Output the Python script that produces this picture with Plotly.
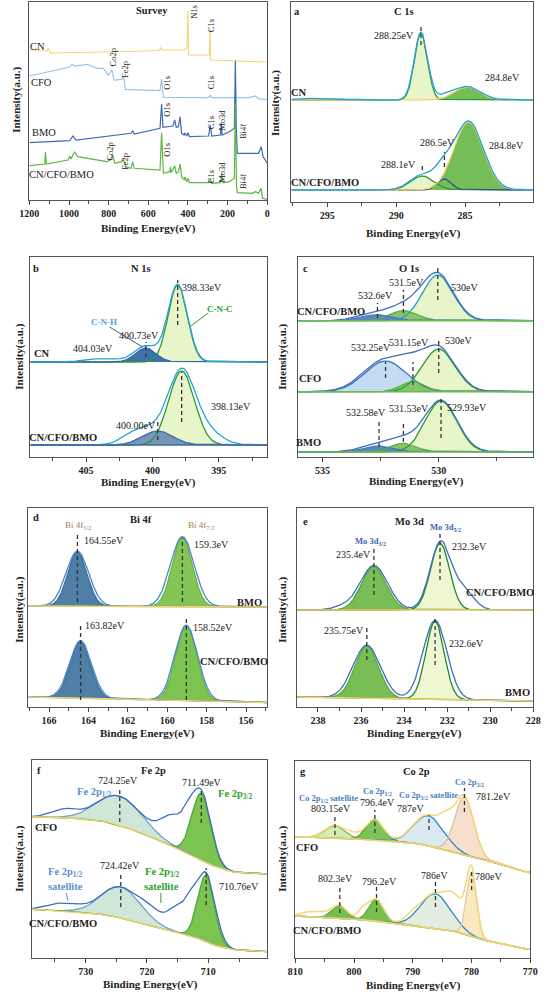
import numpy as np
import plotly.graph_objects as go

W, H = 549, 992
FONT = "Liberation Serif"

# ------------------------------------------------------------------ DATA
# Survey spectra: binding energy (eV) and intensity (a.u.)
CN_SURVEY_EV = [1200, 1110, 1105, 1095, 700, 545, 537, 530, 420, 405, 401, 398, 396, 292, 289, 286, 0]
CN_SURVEY_I = [150, 149, 152, 147, 148.5, 149.5, 152.5, 150, 150, 152, 189, 150, 145, 145, 172, 140, 138]

CFO_SURVEY_EV = [1200, 1102, 996, 985, 972, 907, 858, 826, 801, 783, 773, 736, 725, 715, 541, 533, 524,
                 296, 288, 280, 93, 60, 44, 0]
CFO_SURVEY_I = [124, 128.3, 133, 136, 134, 135.7, 131.7, 131.7, 124.7, 130, 120, 120.7, 122.7, 110.7, 109.3,
                121, 102.7, 102.3, 104.7, 102.3, 102.3, 104, 101.3, 100]

BMO_SURVEY_EV = [1200, 996, 980, 964, 687, 679, 671, 541, 533, 526, 476, 467, 459, 448, 440, 432, 419, 415,
                 406, 399, 393, 296, 288, 280, 236, 232, 228, 191, 166, 161, 156, 151, 44, 31, 21, 0]
BMO_SURVEY_I = [57.3, 59.3, 64, 60, 66.7, 69.3, 66, 71.7, 96, 72.7, 74, 80, 72.7, 73.3, 83.3, 66.7, 65, 67,
                64, 67.3, 63.3, 64, 75, 64, 65, 77.3, 65, 68.3, 71.7, 139.3, 70, 46.7, 46.7, 53.3, 43.3, 36.7]

MIX_SURVEY_EV = [1200, 1122, 1119, 1114, 1005, 996, 990, 972, 956, 809, 793, 780, 769, 736, 725, 715, 687,
                 679, 671, 541, 533, 524, 492, 488, 485, 467, 459, 448, 440, 432, 419, 415, 406, 399, 393,
                 296, 288, 280, 236, 230, 223, 191, 166, 161, 155, 151, 77, 60, 44, 31, 24, 0]
MIX_SURVEY_I = [34.3, 36, 48.3, 36, 40, 44, 41, 48.3, 43.3, 38.3, 40, 45, 36.7, 38.3, 40.7, 33.3, 31.7,
                38.3, 31.7, 30, 67.3, 26.7, 28.3, 33, 27.3, 34, 26.7, 28.3, 36, 23.3, 20, 23, 18.3, 21.7,
                17.3, 17.3, 21.7, 16.7, 17.3, 26.7, 17.3, 18.3, 21.7, 96, 13.3, 7.3, 6.7, 8.3, 6.7, 11.7,
                1.7, 0.7]

# High resolution spectra: fitted components (centre eV, height a.u., FWHM eV),
# measured envelope components and background knots (eV, a.u.)
A_CN_BKG = [(297.6, 102), (280.05, 102)]
A_CN_FIT = [(288.2, 67, 1.1), (284.85, 13, 2.2)]
A_CN_RAW = [(288.2, 67.5, 1.15), (286.6, 3, 1.5), (284.85, 13.5, 2.3), (295.5, 2, 3.0)]
A_MIX_BKG = [(297.6, 12), (280.05, 12)]
A_MIX_FIT = [(288.1, 14, 2.0), (286.5, 11, 1.2), (284.75, 68, 2.5)]
A_MIX_RAW = [(288.1, 15, 2.1), (286.6, 14, 1.4), (284.75, 69, 2.55)]

B_CN_BKG = [(409.2, 95), (391.35, 95)]
B_CN_FIT = [(398.1, 77, 1.7), (400.5, 14, 1.8)]
B_CN_RAW = [(398.1, 77.5, 1.75), (400.5, 16, 2.0), (403.7, 3.5, 3.0)]
B_MIX_BKG = [(409.2, 12), (391.35, 12)]
B_MIX_FIT = [(397.8, 74, 2.3), (399.6, 14, 2.7)]
B_MIX_RAW = [(397.8, 74, 2.4), (395.8, 12, 2.5), (401.0, 15, 2.5), (399.6, 6, 2.0)]

C_MIX_BKG = [(536.05, 136.3), (525.93, 136.3)]
C_MIX_FIT = [(530.04, 45.7, 1.55), (531.52, 10, 1.4), (532.64, 6, 1.5)]
C_MIX_RAW = [(530.04, 46.5, 1.6), (531.4, 13, 1.6), (532.7, 7, 1.8)]
C_CFO_BKG = [(536.05, 65.3), (525.93, 65.3)]
C_CFO_FIT = [(530.0, 42.7, 1.65), (532.29, 30.7, 2.1), (531.11, 10, 1.2)]
C_CFO_RAW = [(530.0, 43.5, 1.7), (531.2, 12, 1.3), (532.3, 32, 2.2)]
C_BMO_BKG = [(536.05, 5), (525.93, 5)]
C_BMO_FIT = [(529.9, 51, 1.6), (531.52, 8.7, 1.3), (532.57, 6, 1.5)]
C_BMO_RAW = [(529.9, 51.5, 1.65), (531.5, 10.5, 1.5), (532.6, 7, 1.8)]

D_BMO_BKG = [(167.05, 101), (154.92, 100)]
D_BMO_FIT = [(164.56, 54, 1.15), (159.23, 69, 1.2)]
D_BMO_RAW = [(164.56, 55, 1.35), (159.23, 70, 1.4)]
D_MIX_BKG = [(167.05, 10), (154.92, 4.5)]
D_MIX_FIT = [(164.4, 57, 1.2), (159.03, 75, 1.25)]
D_MIX_RAW = [(164.4, 57.5, 1.3), (159.03, 75.5, 1.35)]

E_MIX_BKG = [(238.96, 97), (228.0, 97)]
E_MIX_FIT = [(235.4, 43.3, 1.35), (232.33, 66.7, 1.05)]
E_MIX_RAW = [(235.4, 44.5, 1.5), (232.3, 68, 1.15), (231.2, 18, 1.1), (236.9, 3, 1.0)]
E_BMO_BKG = [(238.96, 10), (228.0, 6)]
E_BMO_FIT = [(235.73, 52, 1.3), (232.56, 78, 1.0)]
E_BMO_RAW = [(235.73, 53, 1.5), (232.56, 79, 1.3)]

F_CFO_BKG = [(738.7, 141.3), (731.8, 139.7), (726.5, 136.3), (721.3, 126.3), (717.6, 116.3), (714.5, 108),
             (710.8, 96.3), (708.2, 89.7), (705.5, 85.3), (700.4, 84)]
F_CFO_FIT = [(724.44, 29.5, 8.5), (711.15, 67, 3.6)]
F_CFO_RAW = [(724.44, 29.5, 8.5), (711.15, 67, 3.7), (733.5, 8, 5), (715.5, 30, 5), (713.3, 10, 2)]
F_MIX_BKG = [(738.7, 48.7), (731.8, 46.3), (726.5, 43), (722.3, 37.3), (718.7, 31.3), (715, 25.3),
             (710.8, 18), (708.2, 10.7), (705.5, 8), (700.4, 6.3)]
F_MIX_FIT = [(724.28, 31, 7.5), (710.36, 65.5, 3.2)]
F_MIX_RAW = [(724.28, 31, 7.5), (710.36, 66, 3.5), (733.5, 8, 6), (719.5, 10, 4), (714.5, 28, 4.5),
             (712.8, 12, 1.8)]

G_CFO_BKG = [(810, 121.3), (795.7, 118), (788.6, 114), (782.6, 105.3), (779.3, 99.7), (774.9, 94),
             (770.3, 85.3)]
G_CFO_FIT = [(803.26, 12.5, 4.0), (796.46, 20, 3.4), (787.25, 30, 6.0), (781.22, 58, 3.8)]
G_CFO_RAW = [(803.26, 13, 4.0), (796.46, 20.5, 3.4), (787.25, 31, 6.0), (781.22, 58, 3.8), (784.3, 15, 2.5),
             (800.0, 4, 3.0)]
G_MIX_BKG = [(810, 42), (797.7, 38), (791.1, 33), (782.3, 26.3), (779, 19.7), (775.7, 14.7), (770.3, 8.7)]
G_MIX_FIT = [(802.43, 12.5, 3.0), (796.18, 22, 2.9), (786.15, 35, 6.0), (780.0, 64, 2.0)]
G_MIX_RAW = [(802.43, 12.5, 3.0), (796.18, 22, 2.9), (786.15, 35, 6.0), (780.0, 64, 2.0), (806.5, 6, 5),
             (798.4, 10, 2), (790.0, 5, 3), (782.6, 23, 3.5)]

# Peak marker positions (eV) with the intensity span of each dashed marker
A_MARKS = [(288.2, 157, 175), (288.1, 32, 39), (286.5, 35, 50)]
B_MARKS = [(398.1, 132, 177), (400.5, 100, 115), (397.8, 35, 85), (399.6, 17, 37)]
C_MARKS = [(530.04, 157, 192), (531.52, 144, 167), (532.64, 139, 154), (530.0, 84, 117), (532.29, 79, 95),
           (531.11, 72, 95), (529.9, 19, 60), (531.52, 15, 36), (532.57, 10, 35)]
D_MARKS = [(164.56, 105, 174), (159.23, 105, 169), (164.4, 7, 84), (159.03, 7, 91)]
E_MARKS = [(235.4, 112, 159), (232.33, 127, 175), (235.73, 47, 80), (232.56, 42, 89)]
F_MARKS = [(724.44, 136, 171), (711.15, 135, 168), (724.28, 51, 85), (710.36, 53, 90)]
G_MARKS = [(781.22, 146, 170), (787.25, 128, 143), (796.46, 125, 148), (803.26, 123, 143),
           (802.43, 45, 70), (796.18, 46, 71), (786.15, 51, 76), (780.0, 68, 86)]

# ------------------------------------------------------------------ LAYOUT HELPERS
PANELS = [  # key, left, right, top, bottom (px), x range, dtick, minor dtick
    ("S", 20, 266, 2, 200, (1200, 0), 200, 100),
    ("a", 291, 541, 2, 202, (297.6, 280.05), 5, 2.5),
    ("b", 21, 266, 257, 457, (409.2, 391.35), 5, 2.5),
    ("c", 298, 541, 257, 457, (536.05, 525.93), 5, 2.5),
    ("d", 19, 266, 508, 707, (167.05, 154.92), 2, 1),
    ("e", 297, 541, 508, 707, (238.96, 228.0), 2, 1),
    ("f", 23, 266, 760, 958, (738.7, 700.4), 10, 5),
    ("g", 295, 538, 761, 958, (810, 770), 10, 5),
]
REF = {}
fig = go.Figure()
layout = {}
for i, (key, l, r, t, b, xr, dt, mdt) in enumerate(PANELS, start=1):
    sfx = "" if i == 1 else str(i)
    REF[key] = ("x" + sfx, "y" + sfx, xr)
    layout["xaxis" + sfx] = dict(
        domain=[l / W, r / W], range=list(xr), anchor="y" + sfx, dtick=dt, tick0=0,
        ticks="outside", ticklen=4, tickwidth=1, tickcolor="#444",
        minor=dict(dtick=mdt, ticks="outside", ticklen=3, tickcolor="#444"),
        showline=True, mirror=True, linecolor="#555", linewidth=1.2,
        showgrid=False, zeroline=False,
        tickfont=dict(family=FONT, size=10, color="#222", weight="bold"))
    layout["yaxis" + sfx] = dict(
        domain=[1 - b / H, 1 - t / H], range=[0, b - t], anchor="x" + sfx,
        showticklabels=False, ticks="", showline=True, mirror=True,
        linecolor="#555", linewidth=1.2, showgrid=False, zeroline=False)


def peak(x, c, h, w):
    return h * np.exp(-4 * np.log(2) * ((x - c) / w) ** 2)


def line(key, x, y, color, width=1.2, dash=None):
    xa, ya, _ = REF[key]
    fig.add_trace(go.Scatter(x=x, y=y, mode="lines", xaxis=xa, yaxis=ya, hoverinfo="skip",
                             line=dict(color=color, width=width, dash=dash)))


def stack(key, bkg_knots, fit, styles, raw, raw_color, bkg_color=None, raw_width=1.3):
    xa, ya, xr = REF[key]
    xs = np.linspace(min(xr), max(xr), 900)
    kx = np.array([k[0] for k in bkg_knots])
    ky = np.array([k[1] for k in bkg_knots])
    o = np.argsort(kx)
    bkg = np.interp(xs, kx[o], ky[o])
    comps = [peak(xs, c, h, w) for c, h, w in fit]
    for g, (fc, lc) in zip(comps, styles):
        m = g > 0.05
        xm = xs[m]
        fig.add_trace(go.Scatter(x=np.concatenate([xm, xm[::-1]]),
                                 y=np.concatenate([(bkg + g)[m], bkg[m][::-1]]),
                                 fill="toself", fillcolor=fc, mode="lines", line=dict(width=0),
                                 xaxis=xa, yaxis=ya, hoverinfo="skip"))
    for g, (fc, lc) in zip(comps, styles):
        line(key, xs, bkg + g, lc, 1.3)
    rawy = bkg + sum(peak(xs, c, h, w) for c, h, w in raw)
    line(key, xs, rawy, raw_color, raw_width)
    if bkg_color:
        line(key, xs, bkg, bkg_color, 1.4)


def marks(key, lst):
    for c, lo, hi in lst:
        line(key, [c, c], [lo, hi], "#333", 1.3, "4px,3px")


# ------------------------------------------------------------------ COLOURS
YEL = "#f3d26c"
LG_FILL, LG_LINE = "#e8f5c9", "#2a9a34"
MG_FILL = "#74bd57"
DB_FILL = "#2f62a8"
CYAN = "#28a2d6"
BLUE = "#3e70b8"

# ------------------------------------------------------------------ SURVEY
line("S", CN_SURVEY_EV, CN_SURVEY_I, "#f5d77a", 1.2)
line("S", CFO_SURVEY_EV, CFO_SURVEY_I, "#9cc4e2", 1.2)
line("S", BMO_SURVEY_EV, BMO_SURVEY_I, "#3a6cb8", 1.2)
line("S", MIX_SURVEY_EV, MIX_SURVEY_I, "#5cb548", 1.2)

# ------------------------------------------------------------------ a  C 1s
stack("a", A_CN_BKG, A_CN_FIT, [(LG_FILL, LG_LINE), (MG_FILL, YEL)], A_CN_RAW, CYAN)
stack("a", A_MIX_BKG, A_MIX_FIT, [(LG_FILL, LG_LINE), (DB_FILL, "#2a5596"), (MG_FILL, YEL)], A_MIX_RAW, CYAN)
marks("a", A_MARKS)

# ------------------------------------------------------------------ b  N 1s
stack("b", B_CN_BKG, B_CN_FIT, [(LG_FILL, LG_LINE), ("#3e72ad", "#3565a0")], B_CN_RAW, CYAN)
stack("b", B_MIX_BKG, B_MIX_FIT, [(LG_FILL, LG_LINE), ("rgba(80,115,170,0.75)", "#3d6aa8")], B_MIX_RAW, CYAN,
      bkg_color="#3d6aa8")
marks("b", B_MARKS)

# ------------------------------------------------------------------ c  O 1s
stack("c", C_MIX_BKG, C_MIX_FIT, [(LG_FILL, "#2a9cc8"), ("#86c46a", "#5aae45"), ("#5b86c5", "#4a78b8")],
      C_MIX_RAW, BLUE, bkg_color="#6cbb50")
stack("c", C_CFO_BKG, C_CFO_FIT, [(LG_FILL, LG_LINE), ("#c4dcf2", BLUE), ("#86c46a", "#5aae45")],
      C_CFO_RAW, BLUE, bkg_color="#6cbb50")
stack("c", C_BMO_BKG, C_BMO_FIT, [(LG_FILL, LG_LINE), ("#86c46a", "#5aae45"), ("#5b86c5", "#4a78b8")],
      C_BMO_RAW, BLUE, bkg_color="#6cbb50")
marks("c", C_MARKS)

# ------------------------------------------------------------------ d  Bi 4f
stack("d", D_BMO_BKG, D_BMO_FIT, [("#4f7ea6", "#3f6f9e"), ("#84c556", "#6db544")], D_BMO_RAW, "#4a86c8",
      bkg_color=YEL)
stack("d", D_MIX_BKG, D_MIX_FIT, [("#4f7ea6", "#3f6f9e"), ("#7cc34f", "#6db544")], D_MIX_RAW, "#4a86c8",
      bkg_color=YEL)
marks("d", D_MARKS)

# ------------------------------------------------------------------ e  Mo 3d
stack("e", E_MIX_BKG, E_MIX_FIT, [("#78bd55", "#5aa83c"), ("#eef7d2", "#1e8a28")], E_MIX_RAW, BLUE,
      bkg_color=YEL)
stack("e", E_BMO_BKG, E_BMO_FIT, [("#78bd55", "#5aa83c"), ("#eef7d2", "#1e8a28")], E_BMO_RAW, BLUE,
      bkg_color=YEL)
marks("e", E_MARKS)

# ------------------------------------------------------------------ f  Fe 2p
stack("f", F_CFO_BKG, F_CFO_FIT, [("#cfe6d8", "#6f9fd0"), ("#7cc34f", "#4da83a")], F_CFO_RAW, BLUE,
      bkg_color=YEL)
stack("f", F_MIX_BKG, F_MIX_FIT, [("#cfe6d8", "#6f9fd0"), ("#7cc34f", "#4da83a")], F_MIX_RAW, BLUE,
      bkg_color=YEL)
marks("f", F_MARKS)

# ------------------------------------------------------------------ g  Co 2p
stack("g", G_CFO_BKG, G_CFO_FIT,
      [("#d5ecb0", "#6fbf4a"), ("#7cc35a", "#4fa83a"), ("#dbe9f3", "#2b8cc4"), ("#f6dfcc", "#dcc0a0")],
      G_CFO_RAW, "#f5d77a", bkg_color=YEL, raw_width=1.5)
stack("g", G_MIX_BKG, G_MIX_FIT,
      [("#76bf4f", "#5aae40"), ("#76bf4f", "#5aae40"), ("#e3eee0", "#2b8cc4"), ("#fbe7c0", "#e3c8a8")],
      G_MIX_RAW, "#f5d77a", bkg_color=YEL, raw_width=1.5)
marks("g", G_MARKS)

# ------------------------------------------------------------------ TEXT
ann = []


def txt(s, x, y, size=10, color="#222", bold=False, angle=0, anchor="center"):
    ann.append(dict(text=f"<b>{s}</b>" if bold else s, x=x / W, y=1 - y / H, xref="paper", yref="paper",
                    showarrow=False, xanchor=anchor, yanchor="middle", textangle=angle,
                    font=dict(family=FONT, size=size, color=color)))


# axis titles
for x, y in [(143, 228), (417, 233), (143, 483), (420, 481), (142, 733), (418, 733), (145, 984), (417, 985)]:
    txt("Binding Energy(eV)", x, y, 11, bold=True)
for x, y in [(6, 100), (274, 103), (9, 357), (281, 357), (9, 610), (281, 610), (9, 859), (281, 859)]:
    txt("Intensity(a.u.)", x, y, 11, bold=True, angle=-90)

# survey
txt("Survey", 147, 10, 10.5, bold=True)
for s, x, y in [("CN", 28, 47), ("CFO", 33, 83), ("BMO", 35, 133), ("CN/CFO/BMO", 53, 174)]:
    txt(s, x, y, 10.5)
for s, x, y in [("N1s", 190, 12), ("C1s", 208, 26), ("Co2p", 106, 58), ("Fe2p", 119, 70), ("O1s", 162, 83),
                ("C1s", 208, 83), ("O1s", 162, 110), ("C1s", 208, 123), ("Mo3d", 219, 120), ("Bi4f", 241, 132),
                ("Co2p", 103, 152), ("Fe2p", 119, 162), ("O1s", 162, 150), ("C1s", 208, 177),
                ("Mo3d", 219, 172), ("Bi4f", 241, 182)]:
    txt(s, x, y, 8.5, angle=-90)

# a
txt("a", 297, 12, 10.5, bold=True)
txt("C 1s", 407, 11, 10.5, bold=True)
for s, x, y in [("288.25eV", 397, 36), ("284.8eV", 509, 77), ("286.5eV", 442, 142), ("284.8eV", 513, 145),
                ("288.1eV", 402, 165)]:
    txt(s, x, y, 10)
txt("CN", 299, 92, 10.5, bold=True)
txt("CN/CFO/BMO", 326, 182, 10.5, bold=True)

# b
txt("b", 27, 268, 10.5, bold=True)
txt("N 1s", 135, 268, 10.5, bold=True)
for s, x, y in [("398.33eV", 198, 288), ("400.73eV", 133, 336), ("404.03eV", 86, 348), ("398.13eV", 228, 406),
                ("400.00eV", 130, 425)]:
    txt(s, x, y, 10)
txt("C-N-C", 217, 309, 9, "#2ea02e", bold=True)
txt("C-N-H", 97, 322, 9, "#5ba3d9", bold=True)
txt("CN", 33, 353, 10.5, bold=True)
txt("CN/CFO/BMO", 55, 437, 10.5, bold=True)

# c
txt("c", 305, 268, 10.5, bold=True)
txt("O 1s", 413, 268, 10.5, bold=True)
for s, x, y in [("531.5eV", 410, 282), ("530eV", 470, 287), ("532.6eV", 378, 296), ("532.25eV", 373, 347),
                ("531.15eV", 413, 343), ("530eV", 464, 340), ("532.58eV", 368, 413), ("531.53eV", 413, 408),
                ("529.93eV", 472, 407)]:
    txt(s, x, y, 10)
txt("CN/CFO/BMO", 332, 311, 10.5, bold=True)
txt("CFO", 310, 378, 10.5, bold=True)
txt("BMO", 309, 443, 10.5, bold=True)

# d
txt("d", 27, 517, 10.5, bold=True)
txt("Bi 4f", 135, 519, 10.5, bold=True)
txt("Bi 4f<sub>5/2</sub>", 70, 525, 9, "#a57a5a")
txt("Bi 4f<sub>7/2</sub>", 197, 525, 9, "#a57a5a")
for s, x, y in [("164.55eV", 97, 540), ("159.3eV", 208, 544), ("163.82eV", 98, 625), ("158.52eV", 210, 627)]:
    txt(s, x, y, 10)
txt("BMO", 248, 602, 10.5, bold=True)
txt("CN/CFO/BMO", 232, 661, 10.5, bold=True)

# e
txt("e", 305, 521, 10.5, bold=True)
txt("Mo 3d", 413, 521, 10.5, bold=True)
txt("Mo 3d<sub>5/2</sub>", 450, 527, 8.5, "#3d63b0", bold=True)
txt("Mo 3d<sub>3/2</sub>", 373, 541, 8.5, "#3d63b0", bold=True)
for s, x, y in [("232.3eV", 475, 546), ("235.4eV", 355, 554), ("235.75eV", 345, 630), ("232.6eV", 472, 643)]:
    txt(s, x, y, 10)
txt("CN/CFO/BMO", 507, 592, 10.5, bold=True)
txt("BMO", 525, 692, 10.5, bold=True)

# f
txt("f", 30, 770, 10.5, bold=True)
txt("Fe 2p", 148, 770, 10.5, bold=True)
for s, x, y in [("724.25eV", 112, 780), ("711.49eV", 198, 782), ("724.42eV", 114, 865), ("710.76eV", 237, 886)]:
    txt(s, x, y, 10)
txt("Fe 2p<sub>1/2</sub>", 87, 792, 10.5, "#5b8fd0", bold=True)
txt("Fe 2p<sub>3/2</sub>", 233, 794, 10.5, "#2ea02e", bold=True)
txt("Fe 2p<sub>1/2</sub>", 57, 872, 10.5, "#5b8fd0", bold=True)
txt("satellite", 57, 886, 10.5, "#5b8fd0", bold=True)
txt("Fe 2p<sub>3/2</sub>", 158, 872, 10.5, "#2ea02e", bold=True)
txt("satellite", 157, 886, 10.5, "#2ea02e", bold=True)
txt("CFO", 37, 827, 10.5, bold=True)
txt("CN/CFO/BMO", 55, 923, 10.5, bold=True)

# g
txt("g", 303, 771, 10.5, bold=True)
txt("Co 2p", 420, 771, 10.5, bold=True)
CO = "#4a7fc0"
txt("Co 2p<sub>3/2</sub>", 475, 782, 8.5, CO, bold=True)
txt("Co 2p<sub>3/2</sub> satellite", 433, 795, 8.5, CO, bold=True)
txt("Co 2p<sub>1/2</sub>", 380, 791, 8.5, CO, bold=True)
txt("Co 2p<sub>1/2</sub> satellite", 329, 798, 8.5, CO, bold=True)
for s, x, y in [("781.2eV", 500, 796), ("787eV", 414, 808), ("796.4eV", 380, 802), ("803.15eV", 332, 808),
                ("802.3eV", 337, 878), ("796.2eV", 382, 881), ("786eV", 439, 875), ("780eV", 495, 876)]:
    txt(s, x, y, 10)
txt("CFO", 307, 847, 10.5, bold=True)
txt("CN/CFO/BMO", 328, 930, 10.5, bold=True)

# leader lines
shapes = []
for (x0, y0, x1, y1, c) in [(205, 313, 187, 326, "#2ea02e"), (103, 327, 137, 347, "#3565a0"),
                            (156, 893, 156, 903, "#2ea02e"), (58, 893, 60, 901, "#5b8fd0")]:
    shapes.append(dict(type="line", xref="paper", yref="paper", x0=x0 / W, y0=1 - y0 / H, x1=x1 / W,
                       y1=1 - y1 / H, line=dict(color=c, width=1)))

fig.update_layout(width=W, height=H, margin=dict(l=0, r=0, t=0, b=0), showlegend=False,
                  paper_bgcolor="white", plot_bgcolor="white", annotations=ann, shapes=shapes,
                  font=dict(family=FONT), **layout)
fig.write_html("out.html", config={"displayModeBar": False},
               post_script="document.body.style.margin='0';document.body.style.overflow='hidden';")
